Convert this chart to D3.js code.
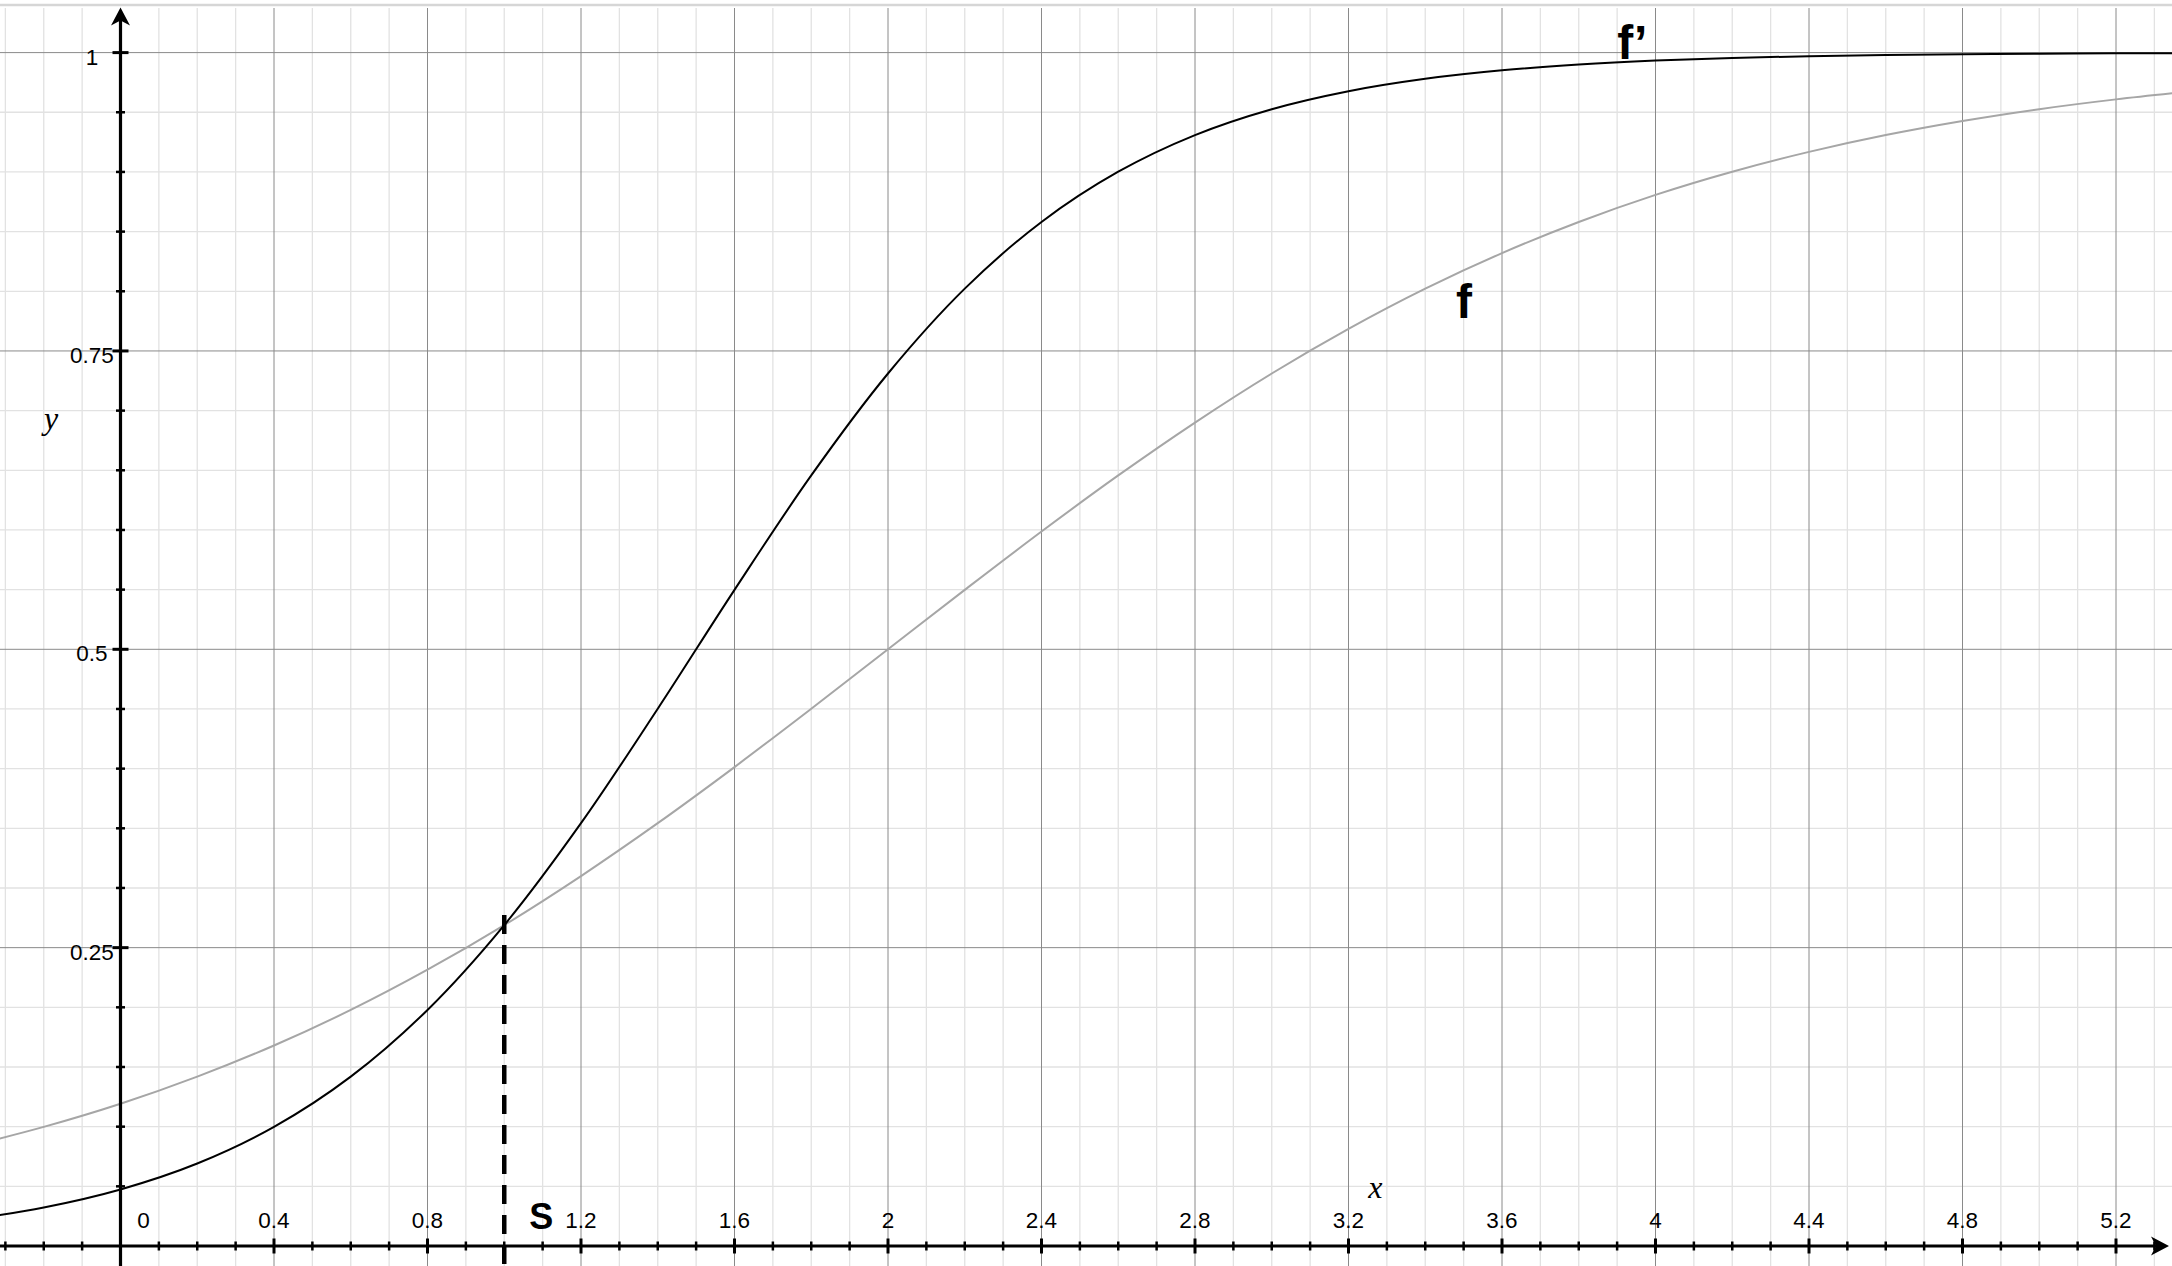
<!DOCTYPE html>
<html>
<head>
<meta charset="utf-8">
<script src="https://cdn.jsdelivr.net/npm/d3@7"></script>
<style>
  html, body { margin: 0; padding: 0; background: #fff; }
  svg { display: block; }
</style>
</head>
<body>
<svg id="chart" width="2172" height="1266"></svg>
<script>
// ---- data ----
const xSamples = [-0.4,-0.2,0,0.2,0.4,0.6,0.8,1.0,1.2,1.4,1.6,1.8,2.0,2.2,2.4,2.6,2.8,3.0,3.2,3.4,3.6,3.8,4.0,4.2,4.4,4.6,4.8,5.0,5.2,5.4];
const fValues = [0.0832,0.0998,0.1192,0.1419,0.1680,0.1978,0.2315,0.2689,0.3100,0.3543,0.4013,0.4502,0.5000,0.5498,0.5987,0.6457,0.6900,0.7311,0.7685,0.8022,0.8320,0.8581,0.8808,0.9002,0.9168,0.9309,0.9427,0.9526,0.9608,0.9677];
const fPrimeValues = [0.0219,0.0323,0.0474,0.0691,0.0998,0.1419,0.1978,0.2689,0.3543,0.4502,0.5498,0.6457,0.7311,0.8022,0.8581,0.9002,0.9309,0.9526,0.9677,0.9781,0.9852,0.9900,0.9933,0.9955,0.9970,0.9980,0.9986,0.9991,0.9994,0.9996];
const xTickLabels = ["0","0.4","0.8","1.2","1.6","2","2.4","2.8","3.2","3.6","4","4.4","4.8","5.2"];
const xTickValues = [0,0.4,0.8,1.2,1.6,2.0,2.4,2.8,3.2,3.6,4.0,4.4,4.8,5.2];
const yTickLabels = ["0.25","0.5","0.75","1"];
const yTickValues = [0.25,0.5,0.75,1];
const xMinorValues = [-0.3,-0.2,-0.1,0,0.1,0.2,0.3,0.4,0.5,0.6,0.7,0.8,0.9,1.0,1.1,1.2,1.3,1.4,1.5,1.6,1.7,1.8,1.9,2.0,2.1,2.2,2.3,2.4,2.5,2.6,2.7,2.8,2.9,3.0,3.1,3.2,3.3,3.4,3.5,3.6,3.7,3.8,3.9,4.0,4.1,4.2,4.3,4.4,4.5,4.6,4.7,4.8,4.9,5.0,5.1,5.2,5.3];
const yMinorValues = [0,0.05,0.1,0.15,0.2,0.25,0.3,0.35,0.4,0.45,0.5,0.55,0.6,0.65,0.7,0.75,0.8,0.85,0.9,0.95,1.0];
const intersectionX = [1.0];
const intersectionY = [0.2689];
const curveLabels = ["f’", "f"];
const curveLabelPos = [[3.9, 0.995], [3.48, 0.778]];
const axisNames = ["x", "y"];

// ---- drawing ----
const W = 2172, H = 1266;
const svg = d3.select("#chart");
const x = d3.scaleLinear().domain([0, 5.2]).range([120.5, 2116]);
const y = d3.scaleLinear().domain([0, 1]).range([1246, 52.6]);
const topGrid = 8;

svg.append("rect").attr("width", W).attr("height", H).attr("fill", "#fff");
svg.append("line").attr("x1", 0).attr("x2", W).attr("y1", 5).attr("y2", 5)
  .attr("stroke", "#d6d6d6").attr("stroke-width", 2.5);

const isMajorX = v => Math.abs(v / 0.4 - Math.round(v / 0.4)) < 1e-6;
const isMajorY = v => Math.abs(v / 0.25 - Math.round(v / 0.25)) < 1e-6;

const grid = svg.append("g");
// minor grid
grid.selectAll("line.vx").data(xMinorValues.filter(v => !isMajorX(v))).join("line")
  .attr("x1", d => x(d)).attr("x2", d => x(d)).attr("y1", topGrid).attr("y2", H)
  .attr("stroke", "#e2e2e2").attr("stroke-width", 1.3);
grid.selectAll("line.hy").data(yMinorValues.filter(v => !isMajorY(v))).join("line")
  .attr("x1", 0).attr("x2", W).attr("y1", d => y(d)).attr("y2", d => y(d))
  .attr("stroke", "#e2e2e2").attr("stroke-width", 1.3);
// major grid
grid.selectAll("line.mx").data(xMinorValues.filter(v => isMajorX(v) && Math.abs(v) > 1e-6)).join("line")
  .attr("x1", d => x(d)).attr("x2", d => x(d)).attr("y1", topGrid).attr("y2", H)
  .attr("stroke", "#8a8a8a").attr("stroke-width", 1);
grid.selectAll("line.my").data(yMinorValues.filter(v => isMajorY(v) && v > 0)).join("line")
  .attr("x1", 0).attr("x2", W).attr("y1", d => y(d)).attr("y2", d => y(d))
  .attr("stroke", "#8a8a8a").attr("stroke-width", 1);

// clip for curves
svg.append("clipPath").attr("id", "clip").append("rect")
  .attr("x", 0).attr("y", topGrid).attr("width", W).attr("height", H - topGrid);

const line = d3.line().x((d, i) => x(xSamples[i])).y(d => y(d)).curve(d3.curveCatmullRom.alpha(0.5));
const curves = svg.append("g").attr("clip-path", "url(#clip)");
curves.append("path").attr("d", line(fValues)).attr("fill", "none")
  .attr("stroke", "#a6a6a6").attr("stroke-width", 2);
curves.append("path").attr("d", line(fPrimeValues)).attr("fill", "none")
  .attr("stroke", "#000").attr("stroke-width", 2);

// dashed line at intersection
svg.append("line").attr("x1", x(intersectionX[0])).attr("x2", x(intersectionX[0]))
  .attr("y1", y(intersectionY[0]) - 10).attr("y2", H)
  .attr("stroke", "#000").attr("stroke-width", 4.5).attr("stroke-dasharray", "19,11");

// axes
const ax = svg.append("g");
const xTip = 2169, yTip = 7.5;
ax.append("line").attr("x1", 0).attr("x2", xTip - 8).attr("y1", y(0)).attr("y2", y(0))
  .attr("stroke", "#000").attr("stroke-width", 3.2);
ax.append("line").attr("x1", x(0)).attr("x2", x(0)).attr("y1", H).attr("y2", yTip + 8)
  .attr("stroke", "#000").attr("stroke-width", 3.2);
// arrow heads
ax.append("path")
  .attr("d", `M${xTip},${y(0)} L${xTip - 18},${y(0) - 9.5} L${xTip - 13},${y(0)} L${xTip - 18},${y(0) + 9.5} Z`)
  .attr("fill", "#000");
ax.append("path")
  .attr("d", `M${x(0)},${yTip} L${x(0) - 9.5},${yTip + 18} L${x(0)},${yTip + 13} L${x(0) + 9.5},${yTip + 18} Z`)
  .attr("fill", "#000");

// x ticks
ax.selectAll("line.xt").data(xMinorValues.filter(v => Math.abs(v) > 1e-6)).join("line")
  .attr("x1", d => x(d)).attr("x2", d => x(d))
  .attr("y1", d => y(0) - (isMajorX(d) ? 7.5 : 4.5))
  .attr("y2", d => y(0) + (isMajorX(d) ? 7.5 : 4.5))
  .attr("stroke", "#000").attr("stroke-width", d => isMajorX(d) ? 3 : 2.5);
// y ticks
ax.selectAll("line.yt").data(yMinorValues.filter(v => v > 0)).join("line")
  .attr("y1", d => y(d)).attr("y2", d => y(d))
  .attr("x1", d => x(0) - (isMajorY(d) ? 8 : 4.5))
  .attr("x2", d => x(0) + (isMajorY(d) ? 8 : 4.5))
  .attr("stroke", "#000").attr("stroke-width", d => isMajorY(d) ? 3 : 2.5);

// tick labels
const lblFont = "'Liberation Sans', Arial, Helvetica, sans-serif";
ax.selectAll("text.xl").data(xTickValues).join("text")
  .attr("x", (d, i) => i === 0 ? x(d) + 23 : x(d))
  .attr("y", y(0) - 18)
  .attr("text-anchor", "middle")
  .attr("font-family", lblFont).attr("font-size", 22.5).attr("fill", "#000")
  .text((d, i) => xTickLabels[i]);
ax.selectAll("text.yl").data(yTickValues).join("text")
  .attr("x", x(0) - 28.5)
  .attr("y", d => y(d) + 12)
  .attr("text-anchor", "middle")
  .attr("font-family", lblFont).attr("font-size", 22.5).attr("fill", "#000")
  .text((d, i) => yTickLabels[i]);

// axis names
svg.append("text").attr("x", x(3.27)).attr("y", 1198).attr("text-anchor", "middle")
  .attr("font-family", "'Liberation Serif', 'Times New Roman', serif").attr("font-style", "italic")
  .attr("font-size", 32).text(axisNames[0]);
svg.append("text").attr("x", 51).attr("y", y(0.685)).attr("text-anchor", "middle")
  .attr("font-family", "'Liberation Serif', 'Times New Roman', serif").attr("font-style", "italic")
  .attr("font-size", 32).text(axisNames[1]);

// curve labels
svg.selectAll("text.cl").data(curveLabels).join("text")
  .attr("x", (d, i) => x(curveLabelPos[i][0]))
  .attr("y", (d, i) => y(curveLabelPos[i][1]))
  .attr("font-family", lblFont).attr("font-weight", "bold").attr("font-size", 48)
  .attr("fill", "#000").text(d => d);

// S label
svg.append("text").attr("x", x(intersectionX[0]) + 25).attr("y", 1229)
  .attr("font-family", lblFont).attr("font-weight", "bold").attr("font-size", 36)
  .attr("fill", "#000").text("S");
</script>
</body>
</html>
